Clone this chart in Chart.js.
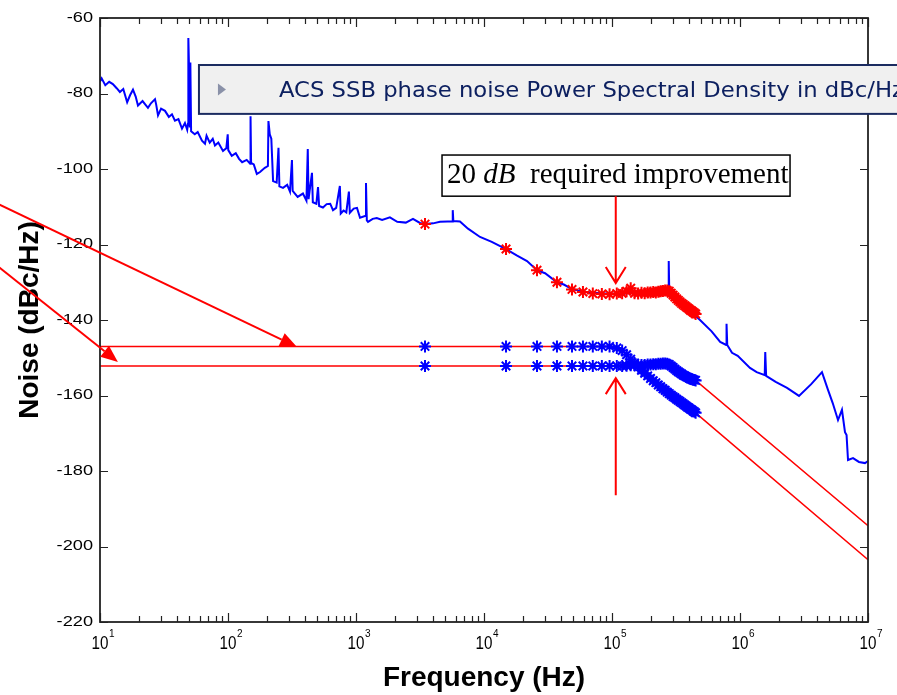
<!DOCTYPE html>
<html>
<head>
<meta charset="utf-8">
<script src="https://cdn.jsdelivr.net/npm/chart.js@4.4.1/dist/chart.umd.min.js"></script>
<style>
  html, body { margin: 0; padding: 0; background: #fff; }
  #wrap { position: relative; width: 897px; height: 695px; }
</style>
</head>
<body>
<div id="wrap"><canvas id="noise"></canvas></div>
<script>
// Measured SSB phase noise (blue trace)
const blueFreq = [
  10, 10.3, 11, 11.8, 12.6, 13.5, 14.3, 15.2, 16.3, 17.2, 18.1, 19.0, 19.8, 21.5, 23.7, 25.0,
  26.9, 27.5, 28.4, 30.0, 32.2, 34.5, 36.5, 38.5, 41.0, 43.7, 46.1, 48.0, 48.7, 49.0, 49.6,
  50.3, 50.8, 51.5, 55, 58, 62.6, 66.1, 68, 72, 76, 79.1, 84, 91.4, 97, 99.5, 100.5, 107,
  115, 122, 129, 140, 149, 150, 151.5, 159, 168, 178, 194, 205, 207, 212, 218, 225, 240,
  248, 252, 269, 290, 305, 316, 320, 350, 385, 410, 420, 426, 453, 460, 490, 505, 515,
  552, 590, 629, 661, 700, 748, 760, 800, 840, 880, 895, 960, 1018, 1075, 1190, 1197,
  1215, 1241, 1350, 1453, 1600, 1840, 2100, 2450, 2787, 3160, 3460, 4000, 4530, 5200,
  5650, 5700, 5760, 6490, 7500, 9310, 11500, 14860, 18000, 21680, 25940, 30000, 37150,
  42000, 48700, 61500, 80600, 115500, 165600, 237100, 276000, 277500, 280000, 339600,
  406600, 487000, 600000, 700000, 780000, 785000, 795000, 866000, 960000, 1.197e6,
  1.35e6, 1.56e6, 1.575e6, 1.6e6, 1.9e6, 2.33e6, 2.89e6, 3.6e6, 4.37e6, 4.87e6, 5.3e6,
  5.83e6, 6.26e6, 6.61e6, 6.8e6, 6.98e6, 7.64e6, 8.5e6, 9.48e6, 1e7
];
const blueDb = [
  -76.8, -76.0, -77.8, -76.9, -77.5, -78.6, -79.6, -78.8, -82.3, -80.4, -79.0, -80.8, -83.2, -82.0, -83.8, -82.6,
  -81.5, -83.0, -85.8, -84.0, -84.6, -86.2, -85.5, -87.2, -86.8, -89.3, -87.8, -89.6, -88.0, -65.3, -73.0,
  -89.0, -71.8, -90.0, -90.8, -90.2, -92.5, -93.3, -91.2, -93.0, -92.0, -93.8, -93.0, -95.2, -94.5, -90.8, -95.0, -96.5,
  -95.8, -97.3, -98.2, -97.6, -98.6, -86.0, -98.4, -98.8, -101.3, -100.8, -99.7, -99.2, -87.3, -90.8, -92.0, -103.2, -103.6,
  -94.4, -104.6, -105.0, -104.2, -106.0, -97.6, -105.8, -107.4, -106.5, -108.4, -94.7, -108.0, -101.0, -108.8, -109.2, -104.8, -109.8,
  -110.2, -109.3, -109.2, -110.9, -110.3, -104.5, -111.8, -111.0, -111.5, -106.0, -111.6, -110.5, -110.3, -112.9, -112.4, -103.7,
  -113.6, -114.0, -113.2, -113.0, -113.5, -112.8, -114.0, -114.2, -113.2, -114.3, -114.6, -114.4, -114.0, -113.9,
  -113.9, -110.9, -113.8, -113.9, -115.8, -118.0, -119.3, -121.2, -122.9, -124.4, -126.8, -127.6, -130.0,
  -130.6, -131.8, -132.6, -132.9, -133.1, -132.6, -132.2, -132.0, -124.4, -132.0, -134.5,
  -137.5, -140.0, -143.0, -145.8, -146.6, -141.0, -146.6, -148.7, -149.5, -152.7,
  -153.8, -154.6, -148.5, -154.8, -156.4, -158.0, -160.1, -157.0, -153.8, -158.5, -162.0,
  -166.5, -163.8, -169.7, -170.5, -177.1, -176.6, -177.6, -177.9, -177.4
];

// Frequencies of the asterisk markers
const starFreq = [
  3460, 14860, 25940, 37150, 48700, 59300, 70800, 83300, 95700, 109000, 120000, 130000,
  140000, 150000, 160000, 170000, 180000, 190000, 200000, 210000, 220000, 230000, 240000,
  250000, 260000, 270000, 280000, 290000, 300000, 310000, 320000, 330000, 340000, 350000,
  360000, 370000, 380000, 390000, 400000, 410000, 420000, 430000, 440000, 450000
];
// red asterisks sitting on the measured trace
const redStarDb = [
  -114.6, -121.2, -126.8, -130.0, -131.9, -132.6, -133.0, -133.1, -133.2, -133.0, -132.9, -132.4,
  -131.6, -132.9, -133.0, -132.8, -132.9, -132.7, -132.7, -132.6, -132.7, -132.5, -132.4,
  -132.3, -132.2, -132.2, -132.4, -132.9, -133.4, -133.9, -134.4, -134.8, -135.2, -135.6,
  -135.9, -136.2, -136.5, -136.8, -137.1, -137.4, -137.6, -137.9, -138.1, -138.4
];
// blue asterisks, row starting at -147
const blueStarUpperDb = [
  -147.0, -147.0, -147.0, -147.0, -147.0, -147.0, -147.0, -147.0, -147.0, -147.4, -148.1, -149.2,
  -150.4, -151.4, -152.4, -153.3, -154.1, -154.8, -155.5, -156.1, -156.6, -157.2, -157.7,
  -158.2, -158.6, -159.1, -159.5, -159.9, -160.3, -160.6, -161.0, -161.3, -161.6, -161.9,
  -162.2, -162.5, -162.8, -163.1, -163.3, -163.6, -163.8, -164.1, -164.3, -164.6
];
// blue asterisks, row starting at -152
const blueStarLowerDb = [
  -152.2, -152.2, -152.2, -152.2, -152.2, -152.2, -152.2, -152.2, -152.2, -152.2, -152.2, -152.1,
  -152.0, -152.0, -152.0, -151.9, -151.9, -151.8, -151.8, -151.7, -151.7, -151.6, -151.6,
  -151.5, -151.5, -151.6, -151.8, -152.2, -152.6, -153.0, -153.4, -153.7, -154.0, -154.3,
  -154.6, -154.8, -155.0, -155.2, -155.4, -155.6, -155.7, -155.8, -155.9, -156.0
];

// red requirement lines
const redLineAFreq = [10, 100000, 109000, 120000, 140000, 170000, 210000, 270000, 340000, 450000, 1e7];
const redLineADb   = [-147, -147, -147.4, -148.1, -150.4, -153.3, -156.1, -159.1, -161.6, -164.6, -203.5];
const redLineBFreq = [10, 120000, 250000, 280000, 340000, 450000, 1e7];
const redLineBDb   = [-152.2, -152.2, -151.5, -151.8, -154.0, -156.0, -194.5];

// axis ticks
const yTicks = [-220, -200, -180, -160, -140, -120, -100, -80, -60];
const xDecades = [1, 2, 3, 4, 5, 6, 7];
const xMinorSteps = [2, 3, 4, 5, 6, 7, 8, 9];

const TITLE_TEXT = 'ACS SSB phase noise Power Spectral Density in dBc/Hz';

function pts(xs, ys) {
    return xs.map((x, i) => ({ x: x, y: ys[i] }));
}

const overlay = {
    id: 'overlay',
    afterDraw(chart) {
        const { ctx, chartArea: a } = chart;
        const xs = chart.scales.x, ys = chart.scales.y;
        const px = f => xs.getPixelForValue(f);
        const py = v => ys.getPixelForValue(v);
        ctx.save();

        // inward tick marks
        ctx.strokeStyle = '#222';
        ctx.lineWidth = 1.2;
        ctx.beginPath();
        yTicks.forEach(v => {
            const yy = Math.round(py(v)) + 0.5;
            ctx.moveTo(a.left, yy); ctx.lineTo(a.left + 8, yy);
            ctx.moveTo(a.right, yy); ctx.lineTo(a.right - 8, yy);
        });
        xDecades.forEach(d => {
            const xx = Math.round(px(Math.pow(10, d))) + 0.5;
            ctx.moveTo(xx, a.bottom); ctx.lineTo(xx, a.bottom - 9);
            ctx.moveTo(xx, a.top); ctx.lineTo(xx, a.top + 9);
            if (d < 7) {
                xMinorSteps.forEach(m => {
                    const xm = Math.round(px(m * Math.pow(10, d))) + 0.5;
                    ctx.moveTo(xm, a.bottom); ctx.lineTo(xm, a.bottom - 6);
                    ctx.moveTo(xm, a.top); ctx.lineTo(xm, a.top + 6);
                });
            }
        });
        ctx.stroke();

        // axes box
        ctx.lineWidth = 1.8;
        ctx.strokeRect(a.left, a.top, a.right - a.left, a.bottom - a.top);

        // y tick labels
        ctx.fillStyle = '#000';
        ctx.font = '14px "Liberation Sans", Arial, sans-serif';
        ctx.textAlign = 'right';
        ctx.textBaseline = 'middle';
        yTicks.forEach(v => {
            ctx.save();
            ctx.translate(a.left - 7, py(v));
            ctx.scale(1.3, 1);
            ctx.fillText(String(v), 0, 0);
            ctx.restore();
        });

        // x tick labels 10^n
        ctx.textBaseline = 'alphabetic';
        xDecades.forEach(d => {
            const xx = px(Math.pow(10, d));
            ctx.save();
            ctx.translate(xx, a.bottom + 27);
            ctx.scale(0.8, 1);
            ctx.textAlign = 'center';
            ctx.font = '19px "Liberation Sans", Arial, sans-serif';
            ctx.fillText('10', 0, 0);
            ctx.restore();
            ctx.textAlign = 'left';
            ctx.font = '10px "Liberation Sans", Arial, sans-serif';
            ctx.fillText(String(d), xx + 9, a.bottom + 15);
        });

        // "ACS SSB ..." banner
        const bx = px(59.3), bt = py(-72.45), bb = py(-85.4);
        ctx.fillStyle = '#f0f0f0';
        ctx.fillRect(bx, bt, chart.width + 10 - bx, bb - bt);
        ctx.strokeStyle = '#1b2b60';
        ctx.lineWidth = 2;
        ctx.strokeRect(bx, bt, chart.width + 10 - bx, bb - bt);
        ctx.fillStyle = '#8a91a8';
        ctx.beginPath();
        const cy = (bt + bb) / 2;
        ctx.moveTo(bx + 19, cy - 6);
        ctx.lineTo(bx + 27, cy);
        ctx.lineTo(bx + 19, cy + 6);
        ctx.closePath();
        ctx.fill();
        ctx.fillStyle = '#0d2060';
        ctx.font = '22px "DejaVu Sans", sans-serif';
        ctx.textAlign = 'left';
        ctx.textBaseline = 'alphabetic';
        const tw = ctx.measureText(TITLE_TEXT).width;
        ctx.save();
        ctx.translate(bx + 80, cy + 8);
        ctx.scale(625 / tw, 1);
        ctx.fillText(TITLE_TEXT, 0, 0);
        ctx.restore();

        // "20 dB required improvement" box
        const ix0 = px(4700), ix1 = px(2.46e6), it = py(-96.3), ib = py(-107.2);
        ctx.fillStyle = '#fff';
        ctx.fillRect(ix0, it, ix1 - ix0, ib - it);
        ctx.strokeStyle = '#000';
        ctx.lineWidth = 1.5;
        ctx.strokeRect(ix0, it, ix1 - ix0, ib - it);
        ctx.fillStyle = '#000';
        const parts = [
            ['20 ', '29px "Liberation Serif", "Times New Roman", serif'],
            ['dB', 'italic 29px "Liberation Serif", "Times New Roman", serif'],
            ['  required improvement', '29px "Liberation Serif", "Times New Roman", serif']
        ];
        let tx = ix0 + 5;
        parts.forEach(p => {
            ctx.font = p[1];
            ctx.fillText(p[0], tx, it + 28);
            tx += ctx.measureText(p[0]).width;
        });

        // red arrows
        ctx.strokeStyle = '#ff0000';
        ctx.fillStyle = '#ff0000';
        ctx.lineWidth = 2;
        const fx = px(1.07e5);
        vArrow(ctx, fx, ib, py(-130.2));
        vArrow(ctx, fx, py(-186.4), py(-155.4));
        solidArrow(ctx, px(1.5), py(-108.8), px(346), py(-147.15));
        solidArrow(ctx, px(1.5), py(-125.1), px(13.8), py(-151.1));

        ctx.restore();
    }
};

function vArrow(ctx, x, y0, y1) {
    const dir = y1 > y0 ? 1 : -1;
    ctx.beginPath();
    ctx.moveTo(x, y0); ctx.lineTo(x, y1);
    ctx.moveTo(x - 10, y1 - dir * 16); ctx.lineTo(x, y1); ctx.lineTo(x + 10, y1 - dir * 16);
    ctx.stroke();
}

function solidArrow(ctx, x0, y0, x1, y1) {
    const ang = Math.atan2(y1 - y0, x1 - x0);
    const len = 17, half = 7;
    const bx = x1 - len * Math.cos(ang), by = y1 - len * Math.sin(ang);
    ctx.beginPath();
    ctx.moveTo(x0, y0); ctx.lineTo(bx, by);
    ctx.stroke();
    ctx.beginPath();
    ctx.moveTo(x1, y1);
    ctx.lineTo(bx + half * Math.sin(ang), by - half * Math.cos(ang));
    ctx.lineTo(bx - half * Math.sin(ang), by + half * Math.cos(ang));
    ctx.closePath();
    ctx.fill();
}

const starStyle = (color) => ({
    showLine: false,
    pointStyle: 'star',
    pointRadius: 6,
    pointBorderWidth: 2,
    borderColor: color,
    backgroundColor: color,
});

new Chart(document.getElementById('noise'), {
    type: 'scatter',
    data: {
        datasets: [
            Object.assign({ data: pts(starFreq, redStarDb), order: 0 }, starStyle('#ff0000')),
            { data: pts(blueFreq, blueDb), showLine: true, borderColor: '#0000ff', borderWidth: 2,
              pointRadius: 0, order: 1 },
            Object.assign({ data: pts(starFreq, blueStarUpperDb), order: 2 }, starStyle('#0000ff')),
            Object.assign({ data: pts(starFreq, blueStarLowerDb), order: 2 }, starStyle('#0000ff')),
            { data: pts(redLineAFreq, redLineADb), showLine: true, borderColor: '#ff0000', borderWidth: 1.5,
              pointRadius: 0, order: 3 },
            { data: pts(redLineBFreq, redLineBDb), showLine: true, borderColor: '#ff0000', borderWidth: 1.5,
              pointRadius: 0, order: 3 },
        ]
    },
    options: {
        responsive: true,
        maintainAspectRatio: false,
        animation: false,
        layout: { padding: { left: 0, right: 29, top: 18, bottom: 0 } },
        plugins: { legend: { display: false }, tooltip: { enabled: false } },
        scales: {
            x: {
                type: 'logarithmic',
                min: 10,
                max: 1e7,
                grid: { display: false },
                border: { display: false },
                ticks: { display: false },
                afterFit(s) { s.height = 73; },
                title: {
                    display: true,
                    text: 'Frequency (Hz)',
                    color: '#000',
                    font: { family: '"Liberation Sans", Arial, sans-serif', size: 28, weight: 'bold' },
                    padding: { top: 0, bottom: 0 }
                }
            },
            y: {
                min: -220,
                max: -60,
                grid: { display: false },
                border: { display: false },
                ticks: { display: false, stepSize: 20 },
                afterFit(s) { s.width = 100; },
                title: {
                    display: true,
                    text: 'Noise (dBc/Hz)',
                    color: '#000',
                    font: { family: '"Liberation Sans", Arial, sans-serif', size: 28, weight: 'bold' },
                    padding: { top: 13, bottom: 0 }
                }
            }
        }
    },
    plugins: [overlay]
});
</script>
</body>
</html>
